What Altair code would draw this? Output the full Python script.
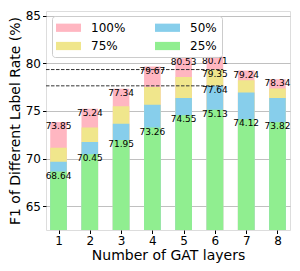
import altair as alt
import pandas as pd

# ---- data ----
layers = [1, 2, 3, 4, 5, 6, 7, 8]
rates = ["100%", "75%", "50%", "25%"]
f1_100 = [73.85, 75.24, 77.34, 79.67, 80.53, 80.71, 79.24, 78.34]
f1_75 = [71.15, 73.27, 75.50, 77.52, 78.56, 79.35, 78.24, 77.35]
f1_50 = [69.68, 71.73, 73.66, 75.65, 76.37, 77.64, 76.93, 76.37]
f1_25 = [68.64, 70.45, 71.95, 73.26, 74.55, 75.13, 74.12, 73.82]
colors = ["#FFB6C1", "#F0E68C", "#87CEEB", "#90EE90"]
best_layer = 6
y_ticks = [65, 70, 75, 80, 85]

# ---- styling constants ----
BAR_HALF = 0.265
X_DOMAIN = [0.6, 8.4]
Y_DOMAIN = [62.5, 85.5]
FONT = "DejaVu Sans"

series = {"100%": f1_100, "75%": f1_75, "50%": f1_50, "25%": f1_25}
rows = []
for idx, r in enumerate(rates):
    for l, v in zip(layers, series[r]):
        show = r in ("100%", "25%") or l == best_layer
        rows.append({"layer": l, "rate": r, "f1": v, "idx": idx,
                     "x0": l - BAR_HALF, "x1": l + BAR_HALF, "show": show})
df = pd.DataFrame(rows)

bi = layers.index(best_layer)
ref = pd.DataFrame({
    "y": [f1_75[bi], f1_50[bi]],
    "xs": [X_DOMAIN[0]] * 2,
    "xe": [best_layer + BAR_HALF] * 2,
})

x_scale = alt.Scale(domain=X_DOMAIN, nice=False, zero=False)
y_scale = alt.Scale(domain=Y_DOMAIN, nice=False, zero=False)

x_axis = alt.Axis(values=layers, format="d", title="Number of GAT layers",
                  grid=False, domain=False, tickColor="#000",
                  tickSize=3.5, labelFontSize=12, titleFontSize=14,
                  titleFontWeight="normal", labelColor="#000",
                  titleColor="#000", labelPadding=2, titlePadding=2,
                  labelOverlap=False, labelFont=FONT, titleFont=FONT)
y_axis = alt.Axis(values=y_ticks, title="F1 of Different Label Rate (%)",
                  grid=True, gridColor="#b0b0b0", gridWidth=0.8,
                  domain=False, tickColor="#000", tickSize=3.5,
                  labelFontSize=12, titleFontSize=14,
                  titleFontWeight="normal", labelColor="#000",
                  titleColor="#000", labelPadding=2, titlePadding=3,
                  labelOverlap=False, labelFont=FONT, titleFont=FONT)

bars = alt.Chart(df).mark_bar().encode(
    x=alt.X("x0:Q", scale=x_scale, axis=x_axis),
    x2="x1:Q",
    y=alt.Y("f1:Q", scale=y_scale, stack=None, axis=y_axis),
    y2=alt.datum(Y_DOMAIN[0]),
    color=alt.Color("rate:N",
                    scale=alt.Scale(domain=rates, range=colors),
                    sort=rates,
                    legend=alt.Legend(
                        title=None, orient="none", legendX=6, legendY=5,
                        columns=2,
                        symbolType="M-2,-0.66L2,-0.66L2,0.66L-2,0.66Z",
                        symbolSize=156, symbolStrokeWidth=0,
                        symbolOffset=5, labelOffset=16,
                        labelFontSize=12, labelFont=FONT, labelColor="#000",
                        padding=5, rowPadding=5.5, columnPadding=29,
                        fillColor="rgba(255,255,255,0.8)",
                        strokeColor="#cccccc", cornerRadius=3)),
    order=alt.Order("idx:Q"),
)

rules = alt.Chart(ref).mark_rule(color="#333", strokeDash=[3.5, 1.5],
                                 strokeWidth=1).encode(
    x=alt.X("xs:Q", scale=x_scale, axis=x_axis),
    x2="xe:Q",
    y=alt.Y("y:Q", scale=y_scale, axis=y_axis),
)

labels = alt.Chart(df).transform_filter("datum.show").mark_text(
    baseline="top", fontSize=9, font=FONT, color="#000", dy=0
).encode(
    x=alt.X("layer:Q", scale=x_scale, axis=x_axis),
    y=alt.Y("f1:Q", scale=y_scale, axis=y_axis),
    text=alt.Text("f1:Q", format=".2f"),
)

chart = alt.layer(bars, rules, labels).properties(
    width=284, height=255,
    autosize=alt.AutoSizeParams(type="fit", contains="padding"),
    padding={"left": 0, "top": 2, "right": 2, "bottom": 0},
).configure_view(stroke="#333", strokeWidth=1).configure(
    font=FONT
).configure_axis(labelOverlap=False)

chart.save("out.html", embed_options={"renderer": "svg", "actions": False})
